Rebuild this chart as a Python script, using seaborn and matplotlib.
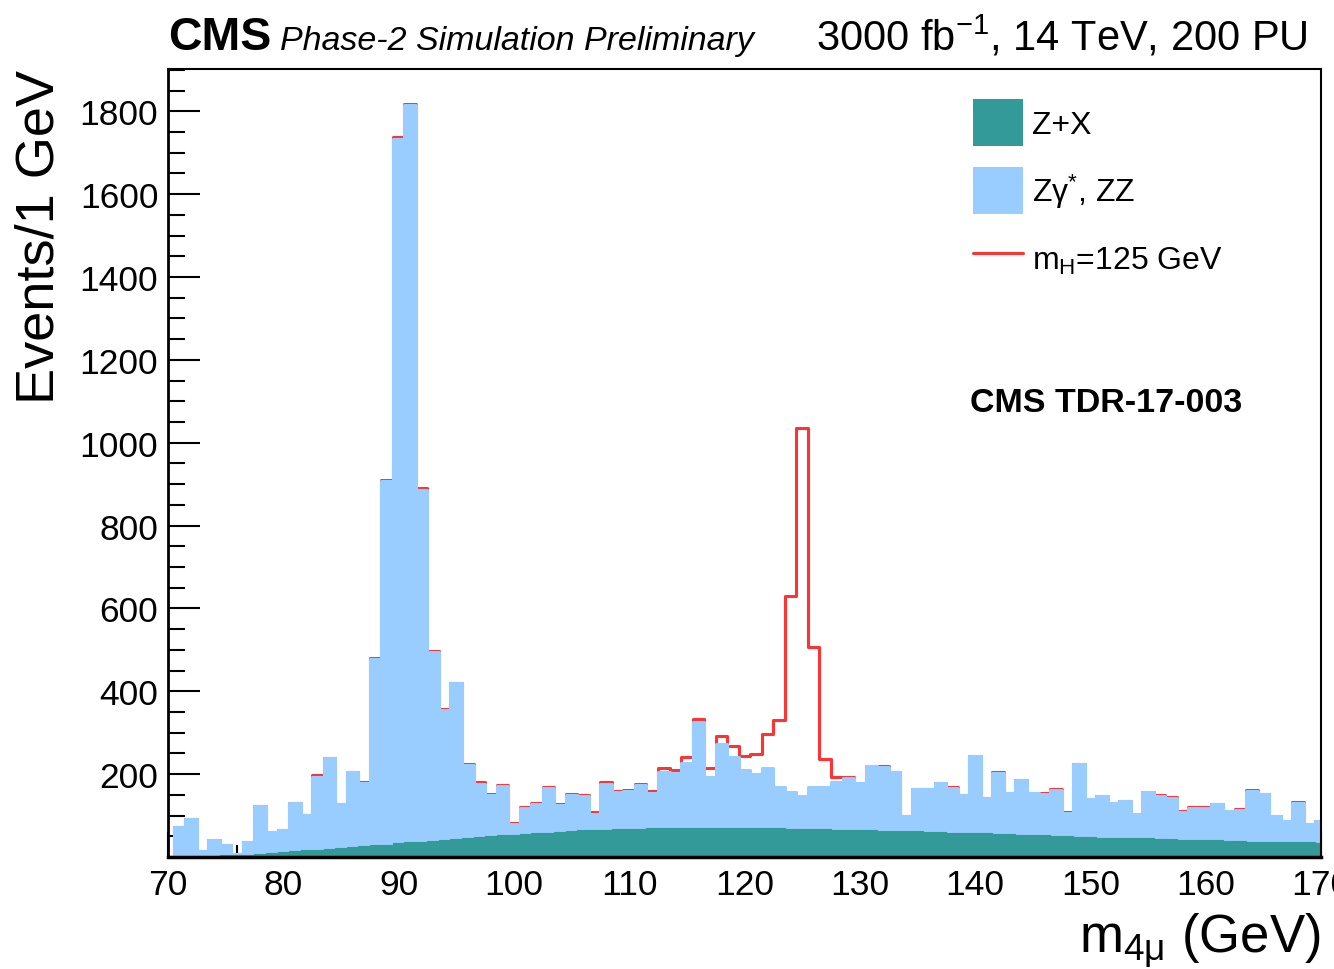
import numpy as np
import pandas as pd
import matplotlib
matplotlib.use("Agg")
import matplotlib.pyplot as plt
import matplotlib.patches as mpatches
from matplotlib.lines import Line2D
from matplotlib.ticker import MultipleLocator
import seaborn as sns

# ---------------- data (bin centres, 1 GeV bins) ----------------
mass = list(range(70, 171))

zx = [1, 1, 2, 2, 3, 4, 5, 6, 8, 10,
      12, 14, 16, 18, 20, 22, 24, 26, 28, 30,
      33, 35, 37, 39, 41, 43, 45, 48, 50, 52,
      54, 56, 58, 59, 61, 62, 64, 65, 66, 67,
      68, 68, 69, 69, 70, 70, 70, 70, 70, 70,
      70, 69, 69, 69, 68, 68, 67, 67, 66, 65,
      64, 64, 63, 63, 62, 62, 61, 60, 59, 59,
      58, 57, 56, 55, 54, 53, 52, 51, 50, 49,
      48, 47, 47, 46, 45, 45, 44, 43, 42, 41,
      40, 40, 39, 38, 37, 37, 36, 36, 35, 35,
      34]

zz = [0, 71, 90, 13, 38, 24, 3, 30, 114, 50,
      52, 116, 85, 176, 218, 106, 181, 152, 451, 878,
      1700, 1779, 850, 456, 315, 376, 178, 129, 100, 119,
      26, 62, 69, 107, 65, 87, 83, 39, 111, 89,
      91, 106, 86, 136, 133, 156, 255, 123, 202, 171,
      141, 132, 147, 100, 89, 80, 103, 103, 116, 125,
      114, 155, 155, 142, 38, 102, 103, 118, 107, 91,
      185, 85, 147, 99, 133, 101, 101, 110, 57, 175,
      92, 100, 83, 88, 59, 112, 104, 100, 67, 78,
      79, 89, 72, 76, 122, 114, 64, 51, 96, 45,
      54]

sig = [0, 0, 0, 0, 0, 0, 0, 0, 0, 0,
       0, 0, 0, 3, 0, 0, 0, 2, 2, 1,
       4, 4, 3, 2, 2, 0, 1, 3, 3, 3,
       2, 3, 4, 4, 3, 3, 3, 4, 5, 4,
       3, 3, 5, 10, 8, 16, 9, 21, 21, 27,
       33, 47, 81, 162, 472, 888, 336, 67, 12, 4,
       1, 1, 1, 1, 0, 0, 0, 0, 2, 0,
       0, 0, 1, 1, 0, 0, 1, 2, 1, 0,
       1, 0, 0, 0, 0, 1, 1, 2, 1, 1,
       1, 0, 0, 1, 2, 2, 0, 0, 1, 0,
       0]

labels = ["Z+X", r"Zγ$^{*}$, ZZ", r"m$_{\mathrm{H}}$=125 GeV"]
yticks = [200, 400, 600, 800, 1000, 1200, 1400, 1600, 1800]
xticks = [70, 80, 90, 100, 110, 120, 130, 140, 150, 160, 170]

df = pd.DataFrame({"mass": mass, "zx": zx, "zz": zz, "sig": sig})
df["bkg"] = df["zx"] + df["zz"]
df["tot"] = df["bkg"] + df["sig"]
brange = (mass[0] - 0.5, mass[-1] + 0.5)

TEAL = "#339999"
BLUE = "#99ccff"
RED = "#ff3333"

# ---------------- style ----------------
sns.set_theme(style="ticks")
plt.rcParams["font.family"] = ["Liberation Sans", "DejaVu Sans"]
plt.rcParams["mathtext.fontset"] = "custom"
plt.rcParams["mathtext.rm"] = "Liberation Sans"
plt.rcParams["mathtext.it"] = "Liberation Sans:italic"
plt.rcParams["mathtext.bf"] = "Liberation Sans:bold"
for k in ["text.color", "axes.labelcolor", "xtick.color", "ytick.color",
          "axes.edgecolor"]:
    plt.rcParams[k] = "black"

W, H = 1334, 970
fig = plt.figure(figsize=(W / 100, H / 100), dpi=100)
fig.patch.set_facecolor("white")
ax = fig.add_axes([168 / W, 1 - 858 / H, (1321 - 168) / W, (858 - 70) / H])
ax.set_facecolor("white")

common = dict(data=df, x="mass", binwidth=1, binrange=brange,
              element="step", ax=ax)
sns.histplot(weights="tot", fill=False, color=RED, linewidth=2.2,
             zorder=2, **common)
sns.histplot(weights="bkg", fill=True, color=BLUE, alpha=1, edgecolor=BLUE,
             linewidth=2.2, zorder=3, **common)
sns.histplot(weights="zx", fill=True, color=TEAL, alpha=1, edgecolor=TEAL,
             linewidth=0.8, zorder=4, **common)

ax.set_xlim(70, 170)
ax.set_ylim(0, 1902)
ax.set_xticks(xticks)
ax.set_yticks(yticks)
ax.xaxis.set_minor_locator(MultipleLocator(2))
ax.yaxis.set_minor_locator(MultipleLocator(50))
ax.tick_params(axis="both", which="both", direction="in", width=1.5,
               colors="black", labelsize=25.5, top=False, right=False)
ax.tick_params(axis="y", which="major", length=23, pad=7)
ax.tick_params(axis="y", which="minor", length=12)
ax.tick_params(axis="x", which="major", length=18, pad=8)
ax.tick_params(axis="x", which="minor", length=9)
for s in ax.spines.values():
    s.set_color("black")
    s.set_linewidth(1.5)
    s.set_zorder(10)
ax.spines["bottom"].set_linewidth(2.5)
ax.spines["left"].set_linewidth(2)

ax.set_ylabel("Events/1 GeV", fontsize=39, loc="top", color="black")
ax.yaxis.set_label_coords(-0.090, 1.0)
ax.set_xlabel(r"m$_{\mathrm{4μ}}$ (GeV)", fontsize=38, loc="right",
              color="black")
ax.xaxis.set_label_coords(1.0, -0.068)

handles = [mpatches.Patch(facecolor=TEAL, edgecolor="none"),
           mpatches.Patch(facecolor=BLUE, edgecolor="none"),
           Line2D([], [], color=RED, linewidth=2.2)]
ax.legend(handles, labels, loc="upper left",
          bbox_to_anchor=((973 - 168) / 1153, (858 - 100) / 788),
          frameon=False, fontsize=23, borderpad=0, borderaxespad=0,
          handlelength=1.55, handleheight=1.87, handletextpad=0.31,
          labelspacing=0.68, labelcolor="black")

fig.text(970 / W, 1 - 412 / H, "CMS TDR-17-003", fontsize=24.5,
         fontweight="bold", va="baseline")
fig.text(168 / W, 1 - 50 / H, "CMS", fontsize=33.5, fontweight="bold",
         va="baseline")
fig.text(280 / W, 1 - 50 / H, "Phase-2 Simulation Preliminary", fontsize=24.5,
         style="italic", va="baseline")
fig.text(1308 / W, 1 - 50 / H, r"3000 fb$^{\mathrm{-1}}$, 14 TeV, 200 PU",
         fontsize=30, ha="right", va="baseline")

fig.savefig("out.png", dpi=100, facecolor="white")
